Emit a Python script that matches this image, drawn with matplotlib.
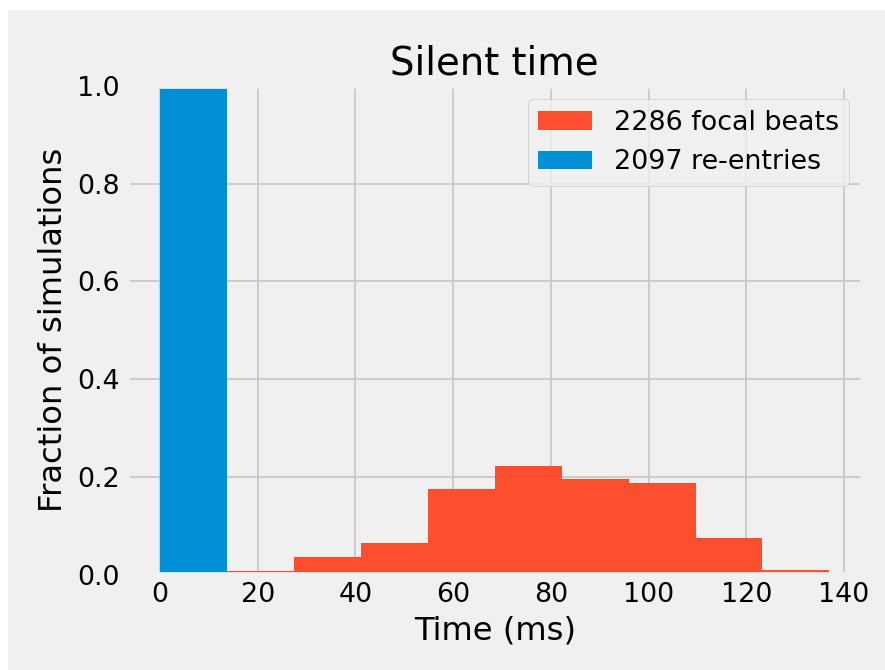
import matplotlib
matplotlib.use("Agg")
import matplotlib.pyplot as plt
from matplotlib.patches import Rectangle

# bin edges of the histogram (ms)
bin_edges = [0.0, 13.7, 27.4, 41.1, 54.8, 68.5, 82.2, 95.9, 109.6, 123.3, 137.0]
bin_centers = [(a + b) / 2 for a, b in zip(bin_edges[:-1], bin_edges[1:])]

# fraction of simulations per bin
focal_fraction = [0.030, 0.008, 0.037, 0.066, 0.175, 0.222, 0.196, 0.188, 0.076, 0.009]
reentry_fraction = [1.0, 0, 0, 0, 0, 0, 0, 0, 0, 0]

focal_label = "2286 focal beats"
reentry_label = "2097 re-entries"

plt.style.use("fivethirtyeight")

fig = plt.figure(figsize=(885 / 138, 670 / 138), dpi=138)
fig.patch.set_facecolor("white")
# grey background with a thin white strip on the top and left, like the reference crop
fig.add_artist(Rectangle((8 / 885, 0), 1, 1 - 10 / 670, transform=fig.transFigure,
                         facecolor="#f0f0f0", edgecolor="none", zorder=-1))

ax = fig.add_axes([0.143, 0.142, 0.832, 0.730])
ax.hist(bin_centers, bins=bin_edges, weights=focal_fraction, label=focal_label,
        color="#fc4f30")
ax.hist(bin_centers, bins=bin_edges, weights=reentry_fraction, label=reentry_label,
        color="#008fd5")

ax.set_ylim(0, 1)
ax.set_title("Silent time")
ax.set_xlabel("Time (ms)")
ax.set_ylabel("Fraction of simulations")
ax.legend(loc="upper right")

fig.savefig("out.png", dpi=138)
